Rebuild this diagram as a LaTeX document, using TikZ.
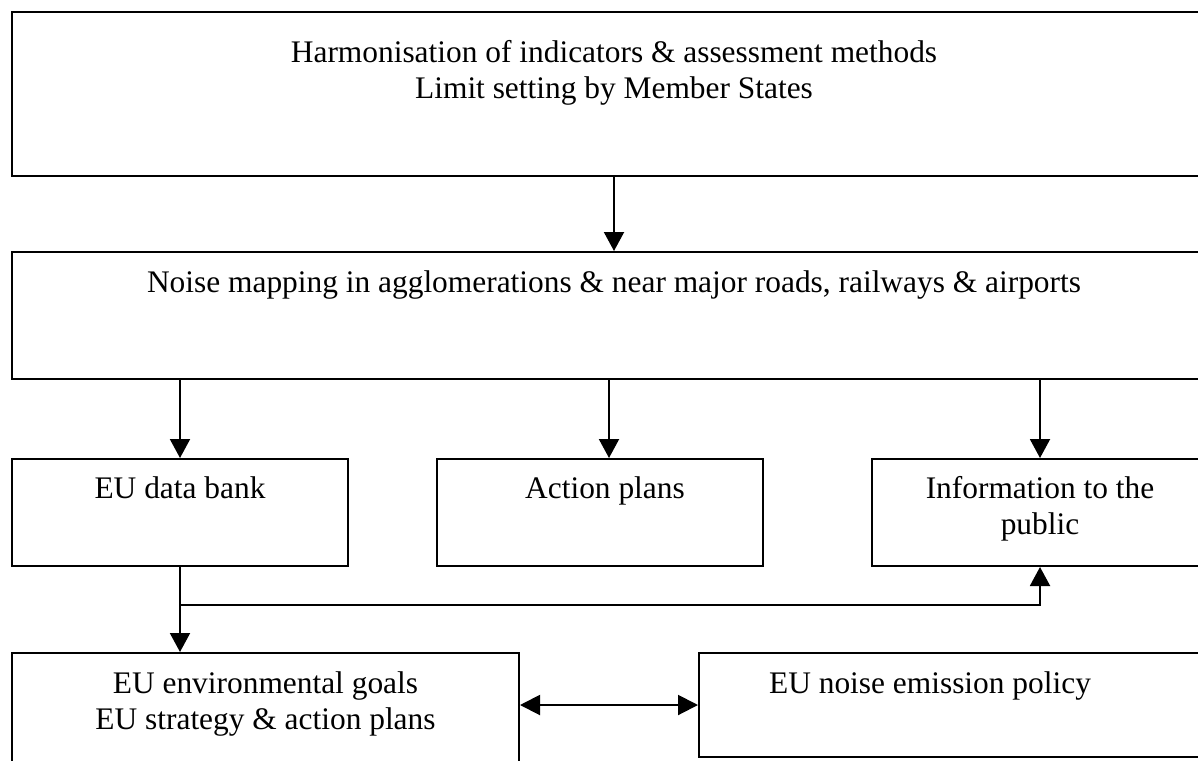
\documentclass[tikz,border=0pt]{standalone}
\usepackage{fontspec}
\setmainfont{Liberation Serif}
\usetikzlibrary{arrows.meta, fit}

\begin{document}
\begin{tikzpicture}[
    x=0.5pt, y=-0.5pt,
    every node/.style={font=\fontsize{15.7}{18}\selectfont},
    box/.style={draw, line width=1pt, inner sep=0pt},
    txt/.style={inner sep=0pt, align=center, anchor=north},
    link/.style={line width=1pt, -{Triangle[length=9.5pt, width=10pt]}},
    both/.style={line width=1pt, {Triangle[length=10pt, width=10pt]}-{Triangle[length=10pt, width=10pt]}},
]
\useasboundingbox (0,0) rectangle (1198,760);
\clip (0,0) rectangle (1198,760);

% ================================================================ the boxes
\node[box, fit={(12,12) (1216,176)}] (harm) {};
\node[box, fit={(12,252) (1216,379)}] (noise) {};

\node[box, fit={(12,459) (348,566)}] (bank) {};
\node[box, fit={(437,459) (763,566)}] (action) {};
\node[box, fit={(872,459) (1208,566)}] (info) {};

\node[box, fit={(12,653) (519,770)}] (goals) {};
\node[box, fit={(699,653) (1216,757)}] (emission) {};

% ================================================================ their texts
\node[txt] (harmtxt) at (harm.north |- 0,40)
    {Harmonisation of indicators \& assessment methods\\ Limit setting by Member States};
\node[txt] (noisetxt) at (noise.north |- 0,270)
    {Noise mapping in agglomerations \& near major roads, railways \& airports};

\node[txt] (banktxt) at (bank.north |- 0,476) {EU data bank};
\node[txt] (actiontxt) at (605,476) {Action plans};
\node[txt] (infotxt) at (info.north |- 0,476) {Information to the\\ public};

\node[txt] (goalstxt) at (goals.north |- 0,671) {EU environmental goals\\ EU strategy \& action plans};
\node[txt] (emissiontxt) at (930,671) {EU noise emission policy};

% ================================================================ arrows
\draw[link] (harm.south) -- (noise.north);

\draw[link] (bank.north |- noise.south) -- (bank.north);
\draw[link] ([xshift=4.5pt]action.north |- noise.south) -- ([xshift=4.5pt]action.north);
\draw[link] (info.north |- noise.south) -- (info.north);

\coordinate (fork) at (bank.south |- 0,605);
\draw[link] (bank.south) -- (bank.south |- goals.north);
\draw[link] (fork) -| (info.south);

\draw[both] (goals.east |- emission.west) -- (emission.west);
\end{tikzpicture}
\end{document}
